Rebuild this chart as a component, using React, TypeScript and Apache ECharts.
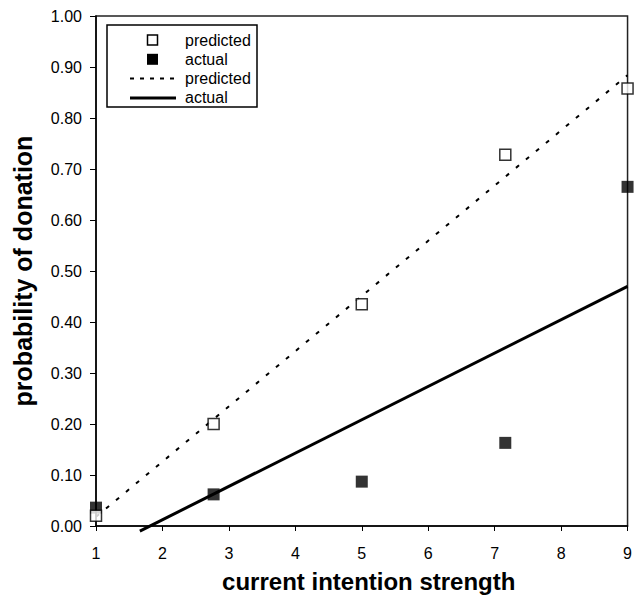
import React, { useEffect, useRef } from "react";
import * as echarts from "echarts";

const xTicks = [1, 2, 3, 4, 5, 6, 7, 8, 9];
const strengthX = [1, 2.77, 5, 7.16, 9];
const predictedY = [0.02, 0.2, 0.435, 0.728, 0.858];
const actualY = [0.036, 0.062, 0.087, 0.163, 0.665];
const predictedFitX = [1, 9];
const predictedFitY = [0.018, 0.884];
const actualFitX = [1.66, 9];
const actualFitY = [-0.01, 0.47];
const legendNames = ["predicted", "actual", "predicted", "actual"];

const FONT = "'Liberation Sans', Arial, Helvetica, sans-serif";

export default function App() {
  const ref = useRef<HTMLDivElement>(null);
  useEffect(() => {
    if (!ref.current) return;
    const chart = echarts.init(ref.current, undefined, { renderer: "svg" });
    const pts = (xs: number[], ys: number[]) => xs.map((x, i) => [x, ys[i]]);
    const legX = 107, legY = 25, rowH = 19.3, firstRow = 40;
    const legendGraphics: any[] = [
      {
        type: "rect",
        shape: { x: legX, y: legY, width: 150, height: 82 },
        style: { fill: "#fff", stroke: "#000", lineWidth: 1.5 },
        z: 100,
      },
    ];
    legendNames.forEach((name, i) => {
      const cy = firstRow + i * rowH;
      if (i === 0) {
        legendGraphics.push({ type: "rect", shape: { x: 147.5, y: cy - 5, width: 10, height: 10 }, style: { fill: "#fff", stroke: "#000", lineWidth: 1.5 }, z: 101 });
      } else if (i === 1) {
        legendGraphics.push({ type: "rect", shape: { x: 147, y: cy - 5.5, width: 11, height: 11 }, style: { fill: "#000" }, z: 101 });
      } else if (i === 2) {
        legendGraphics.push({ type: "line", shape: { x1: 130, y1: cy, x2: 176, y2: cy }, style: { stroke: "#000", lineWidth: 2, lineDash: [4, 6] }, z: 101 });
      } else {
        legendGraphics.push({ type: "line", shape: { x1: 130, y1: cy, x2: 176, y2: cy }, style: { stroke: "#000", lineWidth: 3 }, z: 101 });
      }
      legendGraphics.push({
        type: "text",
        x: 185,
        y: cy,
        style: { text: name, fill: "#000", font: `16px ${FONT}`, textVerticalAlign: "middle" },
        z: 101,
      });
    });

    chart.setOption({
      animation: false,
      backgroundColor: "#fff",
      textStyle: { fontFamily: FONT },
      grid: {
        left: 96,
        right: 5,
        top: 16,
        bottom: 74,
        show: true,
        borderColor: "#222",
        borderWidth: 1.5,
        backgroundColor: "transparent",
      },
      xAxis: {
        type: "value",
        min: xTicks[0],
        max: xTicks[xTicks.length - 1],
        interval: 1,
        name: "current intention strength",
        nameLocation: "middle",
        nameGap: 43,
        nameTextStyle: { fontSize: 24, fontWeight: "bold", color: "#000", fontFamily: FONT, padding: [0, 0, 0, 14] },
        axisLine: { lineStyle: { color: "#000", width: 1.5 } },
        axisTick: { lineStyle: { color: "#000" }, length: 5 },
        axisLabel: { color: "#000", fontSize: 16, margin: 19, fontFamily: FONT },
        splitLine: { show: false },
      },
      yAxis: {
        type: "value",
        min: 0,
        max: 1,
        interval: 0.1,
        name: "probability of donation",
        nameLocation: "middle",
        nameGap: 61,
        nameTextStyle: { fontSize: 25, fontWeight: "bold", color: "#000", fontFamily: FONT },
        axisLine: { show: true, lineStyle: { color: "#000", width: 1.5 } },
        axisTick: { show: true, lineStyle: { color: "#000" }, length: 6 },
        axisLabel: { color: "#000", fontSize: 16, margin: 14, fontFamily: FONT, formatter: (v: number) => v.toFixed(2) },
        splitLine: { show: false },
      },
      series: [
        {
          name: "predicted fit",
          type: "line",
          data: pts(predictedFitX, predictedFitY),
          symbol: "none",
          lineStyle: { color: "#000", width: 2, type: [4, 9] },
          clip: false,
          z: 2,
        },
        {
          name: "actual fit",
          type: "line",
          data: pts(actualFitX, actualFitY),
          symbol: "none",
          lineStyle: { color: "#000", width: 3 },
          clip: false,
          z: 2,
        },
        {
          name: "predicted",
          type: "scatter",
          data: pts(strengthX, predictedY),
          symbol: "rect",
          symbolSize: 11,
          itemStyle: { color: "#fff", borderColor: "#000", borderWidth: 1.5 },
          clip: false,
          z: 4,
        },
        {
          name: "actual",
          type: "scatter",
          data: pts(strengthX, actualY),
          symbol: "rect",
          symbolSize: 12,
          itemStyle: { color: "#000" },
          clip: false,
          z: 3,
        },
      ],
      graphic: legendGraphics,
    });
    return () => chart.dispose();
  }, []);
  return <div ref={ref} style={{ position: "absolute", left: 0, top: 0, width: 635, height: 600 }} />;
}
